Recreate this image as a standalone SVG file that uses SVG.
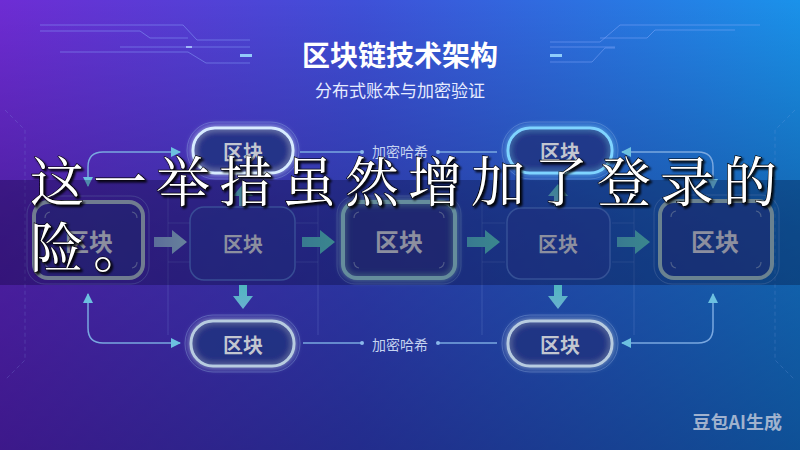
<svg xmlns="http://www.w3.org/2000/svg" width="800" height="450" viewBox="0 0 800 450">
<defs>
  <linearGradient id="bgH" x1="0" y1="0" x2="1" y2="0">
    <stop offset="0" stop-color="#6e2cd4"/>
    <stop offset="0.45" stop-color="#3f50d8"/>
    <stop offset="1" stop-color="#1a92ea"/>
  </linearGradient>
  <linearGradient id="bgV" x1="0" y1="0" x2="0" y2="1">
    <stop offset="0" stop-color="#000020" stop-opacity="0"/>
    <stop offset="0.5" stop-color="#000030" stop-opacity="0.3"/>
    <stop offset="1" stop-color="#000030" stop-opacity="0.45"/>
  </linearGradient>
  <linearGradient id="arrA" x1="0" y1="0" x2="1" y2="0">
    <stop offset="0" stop-color="#7f98c8"/>
    <stop offset="1" stop-color="#8fb4cc"/>
  </linearGradient>
  <linearGradient id="arrT" x1="0" y1="0" x2="1" y2="0">
    <stop offset="0" stop-color="#4ea8bc"/>
    <stop offset="1" stop-color="#52bcb8"/>
  </linearGradient>
  <linearGradient id="arrV" x1="0" y1="0" x2="0" y2="1">
    <stop offset="0" stop-color="#4fb6c0"/>
    <stop offset="1" stop-color="#6ab0d0"/>
  </linearGradient>
  <filter id="glow" x="-30%" y="-50%" width="160%" height="200%">
    <feGaussianBlur in="SourceGraphic" stdDeviation="3" result="b"/>
    <feMerge><feMergeNode in="b"/><feMergeNode in="SourceGraphic"/></feMerge>
  </filter>
  <filter id="shadow" x="-5%" y="-20%" width="110%" height="140%">
    <feDropShadow dx="2" dy="2" stdDeviation="1" flood-color="#000" flood-opacity="0.9"/>
  </filter>
  <marker id="ah" viewBox="0 0 10 10" refX="9" refY="5" markerWidth="10" markerHeight="10" markerUnits="userSpaceOnUse" orient="auto-start-reverse">
    <path d="M0,0 L10,5 L0,10 z" fill="#6cc0e0"/>
  </marker>
  <style>
    .conn{fill:none;stroke:#7aa8e0;stroke-width:1.5;}
    .dot{fill:#8ab8ea;}
    .lbl{font-family:"Noto Sans CJK SC",sans-serif;font-size:14px;fill:#c4d2f0;text-anchor:middle;dominant-baseline:central;}
    .ntxt{font-family:"Noto Sans CJK SC",sans-serif;font-weight:700;text-anchor:middle;dominant-baseline:central;fill:#c2c6d0;}
    .thick{fill:#2a3488;fill-opacity:0.55;stroke-width:4;}
    .ring{fill:none;stroke:#8fb0e0;stroke-opacity:0.35;stroke-width:1;}
    .thin{fill:#2c3ea0;fill-opacity:0.45;stroke:#5a82d0;stroke-opacity:0.7;stroke-width:1.5;}
    .pill{fill:#223080;fill-opacity:0.6;stroke-width:3;}
    .brk{fill:none;stroke:#b0c4d4;stroke-opacity:0.5;stroke-width:1.2;}
    .faint{fill:none;stroke:#8aa8e8;stroke-opacity:0.22;stroke-width:1;}
    .deco{fill:none;stroke:#8fb0ff;stroke-opacity:0.45;stroke-width:1;}
    .big{font-family:"Noto Serif CJK SC","Noto Sans CJK SC",serif;font-size:54px;fill:#ffffff;letter-spacing:9px;stroke:#000;stroke-width:1.2px;paint-order:stroke;}
  </style>
</defs>

<!-- background -->
<rect x="0" y="0" width="800" height="450" fill="url(#bgH)"/>
<rect x="0" y="0" width="800" height="450" fill="url(#bgV)"/>

<!-- decorations -->
<g id="decor">
  <path class="deco" d="M40,25 L183,25 L197,40 L250,40"/>
  <path class="deco" d="M40,31 L140,31 L150,38 L188,38"/>
  <path class="deco" d="M60,52 L188,52 L206,63 L250,63"/>
  <path class="deco" d="M120,47 L250,47"/>
  <rect x="186" y="46" width="6" height="2" fill="#b0d0ff" opacity="0.8"/>
  <rect x="240" y="54" width="12" height="3" fill="#9ad8ff" opacity="0.9"/>
  <path class="deco" d="M760,25 L620,25 L600,42 L550,42"/>
  <path class="deco" d="M735,30 L655,30 L647,38 L600,38"/>
  <path class="deco" d="M550,62 L592,62 L605,48 L615,48"/>
  <path class="deco" d="M550,47 L615,47"/>
  <rect x="550" y="54" width="12" height="3" fill="#9ad8ff" opacity="0.9"/>
  <path class="faint" d="M5,110 L25,130 L25,360 L5,380" stroke-dasharray="4 3"/>
  <path class="faint" d="M795,110 L775,130 L775,360 L795,380" stroke-dasharray="4 3"/>
  <path class="faint" d="M168,190 L168,335 M168,223 L190,223 M168,262 L190,262"/>
  <path class="faint" d="M318,190 L318,335 M318,223 L296,223 M318,262 L296,262"/>
  <path class="faint" d="M482,190 L482,335 M482,223 L505,223 M482,262 L505,262"/>
  <path class="faint" d="M634,190 L634,335 M634,223 L612,223 M634,262 L612,262"/>
</g>

<!-- title -->
<text x="400" y="54" font-family="Noto Sans CJK SC, sans-serif" font-weight="700" font-size="28" fill="#ffffff" text-anchor="middle" dominant-baseline="central">区块链技术架构</text>
<text x="400" y="89" font-family="Noto Sans CJK SC, sans-serif" font-size="17" fill="#e6ecff" text-anchor="middle" dominant-baseline="central">分布式账本与加密验证</text>

<!-- connectors -->
<g id="connectors">
  <path class="conn" d="M88,186 L88,167 Q88,152 103,152 L180,152" marker-start="url(#ah)" marker-end="url(#ah)"/>
  <path class="conn" d="M300,152 L362,152"/><circle class="dot" cx="362" cy="152" r="2"/>
  <path class="conn" d="M497,152 L438,152"/><circle class="dot" cx="438" cy="152" r="2"/>
  <path class="conn" d="M622,152 L698,152 Q713,152 713,167 L713,188" marker-start="url(#ah)" marker-end="url(#ah)"/>
  <path class="conn" d="M88,294 L88,328 Q88,343 103,343 L180,343" marker-start="url(#ah)" marker-end="url(#ah)"/>
  <path class="conn" d="M303,343 L362,343"/><circle class="dot" cx="362" cy="343" r="2"/>
  <path class="conn" d="M497,343 L438,343"/><circle class="dot" cx="438" cy="343" r="2"/>
  <path class="conn" d="M622,343 L698,343 Q713,343 713,328 L713,294" marker-start="url(#ah)" marker-end="url(#ah)"/>
  <text class="lbl" x="400" y="151">加密哈希</text>
  <text class="lbl" x="400" y="344">加密哈希</text>
  <!-- block arrows horizontal -->
  <path d="M154,237 L172,237 L172,230 L187,242 L172,254 L172,247 L154,247 z" fill="url(#arrA)"/>
  <path d="M302,237 L320,237 L320,230 L335,242 L320,254 L320,247 L302,247 z" fill="url(#arrT)"/>
  <path d="M467,237 L485,237 L485,230 L500,242 L485,254 L485,247 L467,247 z" fill="url(#arrT)"/>
  <path d="M617,237 L635,237 L635,230 L650,242 L635,254 L635,247 L617,247 z" fill="url(#arrT)"/>
  <!-- block arrows vertical -->
  <path d="M239,206 L239,196 L233,196 L243,184 L253,196 L247,196 L247,206 z" fill="url(#arrV)"/>
  <path d="M554,206 L554,196 L548,196 L558,184 L568,196 L562,196 L562,206 z" fill="url(#arrV)"/>
  <path d="M239,285 L239,296 L233,296 L243,309 L253,296 L247,296 L247,285 z" fill="url(#arrV)"/>
  <path d="M554,285 L554,296 L548,296 L558,309 L568,296 L562,296 L562,285 z" fill="url(#arrV)"/>
</g>

<!-- nodes -->
<g id="pill-top-left">
  <rect class="ring" x="187" y="122" width="112" height="57" rx="28"/>
  <rect class="pill" x="193" y="128" width="100" height="45" rx="22" stroke="#d8ecff" filter="url(#glow)"/>
  <text class="ntxt" x="243" y="151" font-size="20" fill="#e4e8f0">区块</text>
</g>
<g id="pill-top-right">
  <rect class="ring" x="502" y="122" width="116" height="57" rx="28"/>
  <rect class="pill" x="508" y="128" width="104" height="45" rx="22" stroke="#7fd4ff" filter="url(#glow)"/>
  <text class="ntxt" x="560" y="151" font-size="20" fill="#e4e8f0">区块</text>
</g>
<g id="pill-bottom-left">
  <rect class="ring" x="185" y="315" width="115" height="57" rx="28"/>
  <rect class="pill" x="191" y="321" width="103" height="45" rx="22" stroke="#b8cce0" filter="url(#glow)"/>
  <text class="ntxt" x="243" y="344" font-size="20" fill="#d0d4dc">区块</text>
</g>
<g id="pill-bottom-right">
  <rect class="ring" x="502" y="315" width="116" height="57" rx="28"/>
  <rect class="pill" x="508" y="321" width="104" height="45" rx="22" stroke="#b8cce0" filter="url(#glow)"/>
  <text class="ntxt" x="560" y="344" font-size="20" fill="#d0d4dc">区块</text>
</g>

<g id="node-1">
  <rect class="ring" x="27" y="196" width="122" height="88" rx="18"/>
  <rect class="thick" x="34" y="202" width="109" height="76" rx="14" stroke="#9cacbc"/>
  <path class="brk" d="M45,218 Q45,213 50,212 M132,212 Q137,213 137,218 M45,262 Q45,267 50,268 M132,268 Q137,267 137,262"/>
  <text class="ntxt" x="89" y="240" font-size="24">区块</text>
</g>
<g id="node-2">
  <rect class="thin" x="190" y="207" width="105" height="73" rx="14"/>
  <text class="ntxt" x="243" y="243" font-size="20">区块</text>
</g>
<g id="node-3">
  <rect class="ring" x="337" y="196" width="124" height="88" rx="18"/>
  <rect class="thick" x="343" y="202" width="112" height="76" rx="14" stroke="#8cc4cc" filter="url(#glow)"/>
  <path class="brk" d="M354,218 Q354,213 359,212 M439,212 Q444,213 444,218 M354,262 Q354,267 359,268 M439,268 Q444,267 444,262"/>
  <text class="ntxt" x="399" y="240" font-size="24">区块</text>
</g>
<g id="node-4">
  <rect class="thin" x="507" y="208" width="103" height="71" rx="14"/>
  <text class="ntxt" x="558" y="243" font-size="20">区块</text>
</g>
<g id="node-5">
  <rect class="ring" x="654" y="195" width="125" height="89" rx="18"/>
  <rect class="thick" x="660" y="201" width="112" height="77" rx="14" stroke="#94b4bc"/>
  <path class="brk" d="M671,217 Q671,212 676,211 M756,211 Q761,212 761,217 M671,262 Q671,267 676,268 M756,268 Q761,267 761,262"/>
  <text class="ntxt" x="715" y="240" font-size="24">区块</text>
</g>

<!-- watermark -->
<text x="782" y="421" font-family="Noto Sans CJK SC, sans-serif" font-weight="700" font-size="18" fill="#d0d4e0" fill-opacity="0.75" text-anchor="end" dominant-baseline="central">豆包AI生成</text>

<!-- subtitle overlay band -->
<rect x="0" y="180" width="800" height="105" fill="#000020" fill-opacity="0.28"/>
<g filter="url(#shadow)">
  <text class="big" x="30" y="202">这一举措虽然增加了登录的</text>
  <text class="big" x="30" y="268">险。</text>
</g>
</svg>
